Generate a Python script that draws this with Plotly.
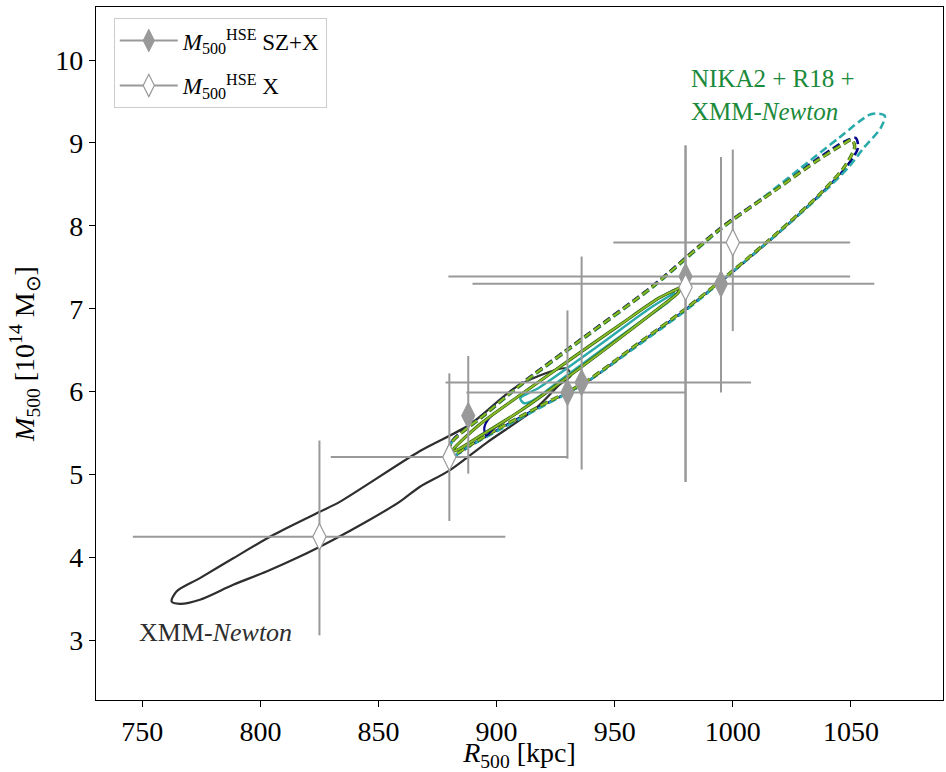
import plotly.graph_objects as go

# Hydrostatic masses: SZ+X (filled) and X-only (open)
r_szx = [888, 930, 936, 980, 995]
m_szx = [5.71, 5.99, 6.11, 7.39, 7.30]
r_szx_lo = [0, 42.8, 57.6, 100.4, 105.2]
r_szx_hi = [0, 49.8, 71.7, 69.7, 64.9]
m_szx_lo = [0.70, 0.80, 1.05, 2.48, 1.31]
m_szx_hi = [0.72, 0.99, 1.52, 1.58, 1.53]

r_x = [825, 880, 980, 1000]
m_x = [4.25, 5.21, 7.26, 7.80]
r_x_lo = [79.0, 50.2, 0, 50.6]
r_x_hi = [78.7, 49.9, 0, 49.7]
m_x_lo = [1.19, 0.77, 2.35, 1.07]
m_x_hi = [1.16, 1.01, 1.71, 1.12]

# XMM-Newton contour
r_xmm = [931.5, 929.4, 909.6, 888.5, 867.4, 833.6, 825.1, 805.4, 788.5, 774.4, 764.5, 762.4,
         765.9, 774.4, 788.5, 802.6, 816.7, 830.7, 844.8, 858.9, 867.4, 880.1, 895.6, 916.7, 926.5, 931.5]
m_xmm = [6.20, 6.28, 6.08, 5.60, 5.28, 4.67, 4.55, 4.27, 3.99, 3.75, 3.59, 3.47,
         3.44, 3.49, 3.67, 3.83, 4.01, 4.21, 4.43, 4.67, 4.85, 5.05, 5.38, 5.80, 6.08, 6.20]

# NIKA2 + R18 + XMM-Newton outer contours
r_out_g = [878.8, 881.3, 894.8, 909.6, 937.9, 966.2, 994.6, 1019.5, 1036.4, 1047.0, 1050.4,
           1051.6, 1047.0, 1036.4, 1019.5, 999.7, 980.1, 959.0, 937.8, 916.7, 901.2, 888.5, 880.9, 878.8]
m_out_g = [5.23, 5.40, 5.72, 6.07, 6.67, 7.27, 7.96, 8.46, 8.80, 8.99, 9.04,
           8.95, 8.70, 8.37, 7.93, 7.45, 7.00, 6.56, 6.12, 5.80, 5.56, 5.35, 5.22, 5.23]

r_out_n = [878.8, 881.3, 894.8, 909.6, 937.9, 966.2, 994.6, 1019.5, 1036.4, 1047.5, 1052.0,
           1053.0, 1047.5, 1036.4, 1019.5, 999.7, 980.1, 959.0, 937.8, 916.7, 901.2, 888.5, 880.9, 878.8]
m_out_n = [5.23, 5.41, 5.73, 6.08, 6.68, 7.28, 7.97, 8.47, 8.82, 9.02, 9.06,
           8.94, 8.69, 8.36, 7.92, 7.44, 6.99, 6.55, 6.11, 5.79, 5.55, 5.34, 5.21, 5.23]

r_out_c = [878.8, 881.3, 894.8, 909.6, 937.9, 966.2, 994.6, 1011.5, 1028.0, 1044.9, 1058.8, 1064.3,
           1062.6, 1055.4, 1049.1, 1036.4, 1019.5, 999.7, 980.1, 959.0, 937.8, 916.7, 901.2, 888.5, 880.9, 878.8]
m_out_c = [5.23, 5.40, 5.71, 6.06, 6.66, 7.26, 7.95, 8.31, 8.68, 9.06, 9.35, 9.33,
           9.18, 8.94, 8.71, 8.35, 7.92, 7.44, 6.98, 6.54, 6.11, 5.78, 5.54, 5.34, 5.21, 5.23]

# inner contours
r_in_g = [881.0, 892.7, 909.6, 930.8, 951.9, 968.8, 975.2, 978.1,
          976.8, 968.8, 951.9, 930.8, 909.6, 892.7, 884.2, 881.0]
m_in_g = [5.28, 5.60, 5.95, 6.38, 6.80, 7.13, 7.22, 7.26,
          7.19, 7.01, 6.64, 6.19, 5.76, 5.46, 5.31, 5.28]

r_in_c = [910.0, 918.1, 943.4, 964.6, 973.0, 975.2, 973.0, 960.3, 943.4, 926.5, 915.9, 911.7, 910.0]
m_in_c = [5.92, 6.05, 6.56, 7.00, 7.15, 7.19, 7.09, 6.83, 6.48, 6.13, 5.90, 5.86, 5.92]

r_in_n = [894.8, 896.9, 909.6, 930.8, 951.9, 968.8, 977.5, 976.4, 968.8, 951.9, 930.8, 909.6, 899.0, 895.6, 894.8]
m_in_n = [5.56, 5.68, 5.95, 6.38, 6.80, 7.13, 7.25, 7.19, 7.01, 6.64, 6.19, 5.76, 5.56, 5.47, 5.56]

GREY = "#999999"
SERIF = "Liberation Serif"

fig = go.Figure()


def contour(r, m, color, width, dash="solid"):
    fig.add_trace(go.Scatter(x=r, y=m, mode="lines", showlegend=False, hoverinfo="skip",
                             line=dict(color=color, width=width, dash=dash,
                                       shape="spline", smoothing=0.8)))


contour(r_xmm, m_xmm, "#2e2e2e", 2.2)
DASH = "8px,4px"
contour(r_out_n, m_out_n, "#00008b", 2.6, DASH)
contour(r_out_c, m_out_c, "#2aaaaa", 2.6, DASH)
contour(r_out_g, m_out_g, "#3d6b18", 3.4, DASH)
contour(r_out_g, m_out_g, "#8cbf26", 1.8, DASH)
contour(r_in_n, m_in_n, "#00008b", 2.2)
contour(r_in_c, m_in_c, "#2aaaaa", 2.4)
contour(r_in_g, m_in_g, "#3d6b18", 3.2)
contour(r_in_g, m_in_g, "#8cbf26", 1.7)

err_style = dict(type="data", symmetric=False, color=GREY, thickness=2, width=0)

fig.add_trace(go.Scatter(
    x=r_szx, y=m_szx, mode="markers", showlegend=False, hoverinfo="skip",
    marker=dict(symbol="diamond-tall", size=19, color=GREY, line=dict(color=GREY, width=1)),
    error_x=dict(array=r_szx_hi, arrayminus=r_szx_lo, **err_style),
    error_y=dict(array=m_szx_hi, arrayminus=m_szx_lo, **err_style)))

fig.add_trace(go.Scatter(
    x=r_x, y=m_x, mode="markers", showlegend=False, hoverinfo="skip",
    marker=dict(symbol="diamond-tall", size=19, color="white", line=dict(color=GREY, width=1.2)),
    error_x=dict(array=r_x_hi, arrayminus=r_x_lo, **err_style),
    error_y=dict(array=m_x_hi, arrayminus=m_x_lo, **err_style)))

# legend entries
fig.add_trace(go.Scatter(
    x=[None], y=[None], mode="lines+markers", name="<i>M</i><sub>500</sub><sup>HSE</sup> SZ+X",
    legendgroup="a", line=dict(color=GREY, width=2),
    marker=dict(symbol="diamond-tall", size=19, color=GREY, line=dict(color=GREY, width=1))))
fig.add_trace(go.Scatter(
    x=[None], y=[None], mode="lines+markers", name="<i>M</i><sub>500</sub><sup>HSE</sup> X",
    legendgroup="b", line=dict(color=GREY, width=2),
    marker=dict(symbol="diamond-tall", size=19, color="white", line=dict(color=GREY, width=1.2))))

fig.add_annotation(x=981.5, y=9.58, xref="x", yref="y", xanchor="left", yanchor="middle",
                   text="NIKA2 + R18 +<br>XMM-<i>Newton</i>", showarrow=False, align="left",
                   font=dict(family=SERIF, size=25, color="#1b8a3a"))
fig.add_annotation(x=747.8, y=3.09, xref="x", yref="y", xanchor="left", yanchor="middle",
                   text="XMM-<i>Newton</i>", showarrow=False, align="left",
                   font=dict(family=SERIF, size=26, color="#2e2e2e"))

axis_common = dict(showline=True, mirror=True, linecolor="black", linewidth=1.3,
                   ticks="outside", ticklen=6, tickwidth=1.3, tickcolor="black",
                   showgrid=False, zeroline=False,
                   tickfont=dict(family=SERIF, size=28, color="black"))

fig.update_layout(
    width=946, height=772,
    margin=dict(l=96, r=2, t=7, b=69),
    plot_bgcolor="white", paper_bgcolor="white",
    xaxis=dict(range=[730.4, 1089], tickvals=[750, 800, 850, 900, 950, 1000, 1050],
               title=dict(text="<i>R</i><sub>500</sub> [kpc]", standoff=4,
                          font=dict(family=SERIF, size=28, color="black")), **axis_common),
    yaxis=dict(range=[2.28, 10.64], tickvals=[3, 4, 5, 6, 7, 8, 9, 10],
               title=dict(text="<i>M</i><sub>500</sub> [10<sup>14</sup> M<sub>⊙</sub>]", standoff=12,
                          font=dict(family=SERIF, size=28, color="black")), **axis_common),
    legend=dict(x=0.021, y=0.984, xanchor="left", yanchor="top",
                bgcolor="white", bordercolor="#cccccc", borderwidth=1,
                font=dict(family=SERIF, size=23, color="black"), itemwidth=58,
                tracegroupgap=12),
    showlegend=True,
)

fig.write_html("out.html")
